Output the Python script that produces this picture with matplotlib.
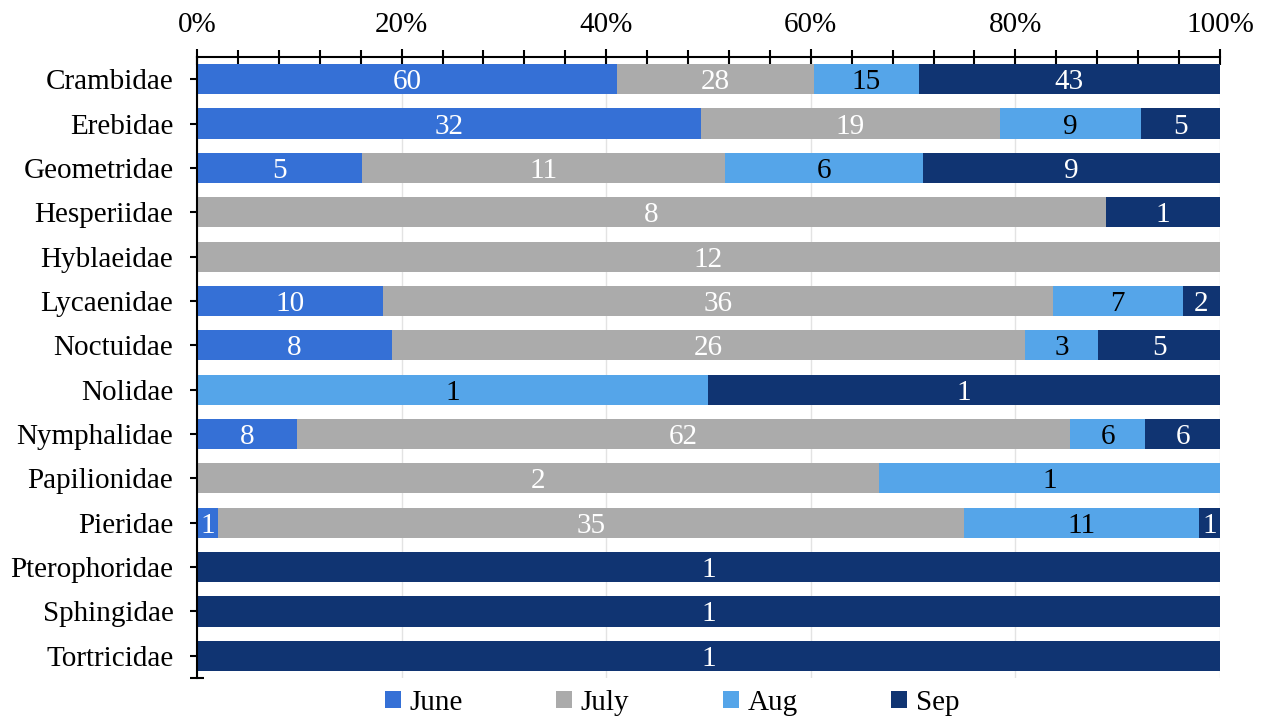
import matplotlib.pyplot as plt
import numpy as np
from matplotlib.ticker import MultipleLocator, FixedLocator, FuncFormatter

families = ["Crambidae", "Erebidae", "Geometridae", "Hesperiidae", "Hyblaeidae",
            "Lycaenidae", "Noctuidae", "Nolidae", "Nymphalidae", "Papilionidae",
            "Pieridae", "Pterophoridae", "Sphingidae", "Tortricidae"]
months = ["June", "July", "Aug", "Sep"]
june = [60, 32, 5, 0, 0, 10, 8, 0, 8, 0, 1, 0, 0, 0]
july = [28, 19, 11, 8, 12, 36, 26, 0, 62, 2, 35, 0, 0, 0]
aug = [15, 9, 6, 0, 0, 7, 3, 1, 6, 1, 11, 0, 0, 0]
sep = [43, 5, 9, 1, 0, 2, 5, 1, 6, 0, 1, 1, 1, 1]

colors = ["#3570D6", "#ABABAB", "#55A5E9", "#103472"]
label_colors = ["white", "white", "black", "white"]

plt.rcParams['font.family'] = ['Liberation Serif', 'DejaVu Serif']
plt.rcParams['font.size'] = 21

counts = np.array([june, july, aug, sep], dtype=float)
totals = counts.sum(axis=0)
shares = counts / totals * 100

fig = plt.figure(figsize=(12.68, 7.17), dpi=100)
ax = fig.add_axes([0.1554, 0.0544, 0.9621 - 0.1554, 0.9205 - 0.0544])

y = np.arange(len(families))
left = np.zeros(len(families))
for i, m in enumerate(months):
    ax.barh(y, shares[i], left=left, height=0.68, color=colors[i], label=m, zorder=2)
    for j in range(len(families)):
        if counts[i, j] > 0:
            ax.text(left[j] + shares[i, j] / 2, y[j], f"{int(counts[i, j])}",
                    ha='center', va='center_baseline', color=label_colors[i],
                    fontsize=21, zorder=3)
    left += shares[i]

ax.set_xlim(0, 100)
ax.set_ylim(13.5, -0.5)
ax.set_yticks(y)
ax.set_yticklabels(families)
ax.yaxis.set_minor_locator(FixedLocator([13.5]))
ax.xaxis.tick_top()
ax.xaxis.set_major_locator(MultipleLocator(20))
ax.xaxis.set_minor_locator(MultipleLocator(4))
ax.xaxis.set_major_formatter(FuncFormatter(lambda v, p: f"{v:.0f}%"))
ax.tick_params(axis='x', which='major', direction='inout', length=12, width=1.5, pad=8)
ax.tick_params(axis='x', which='minor', direction='inout', length=10, width=1.5)
ax.tick_params(axis='y', which='both', direction='inout', length=10, width=1.5, pad=12)
ax.grid(axis='x', color='#E3E3E3', linewidth=1, zorder=0)

for s in ['right', 'bottom']:
    ax.spines[s].set_visible(False)
for s in ['top', 'left']:
    ax.spines[s].set_linewidth(1.5)

fig.legend(*ax.get_legend_handles_labels(), loc='center', bbox_to_anchor=(0.53, 0.02),
           ncol=4, frameon=False, handlelength=0.55, handleheight=0.55,
           handletextpad=0.3, columnspacing=3.2, fontsize=21, borderpad=0)

fig.savefig("out.png", dpi=100)
